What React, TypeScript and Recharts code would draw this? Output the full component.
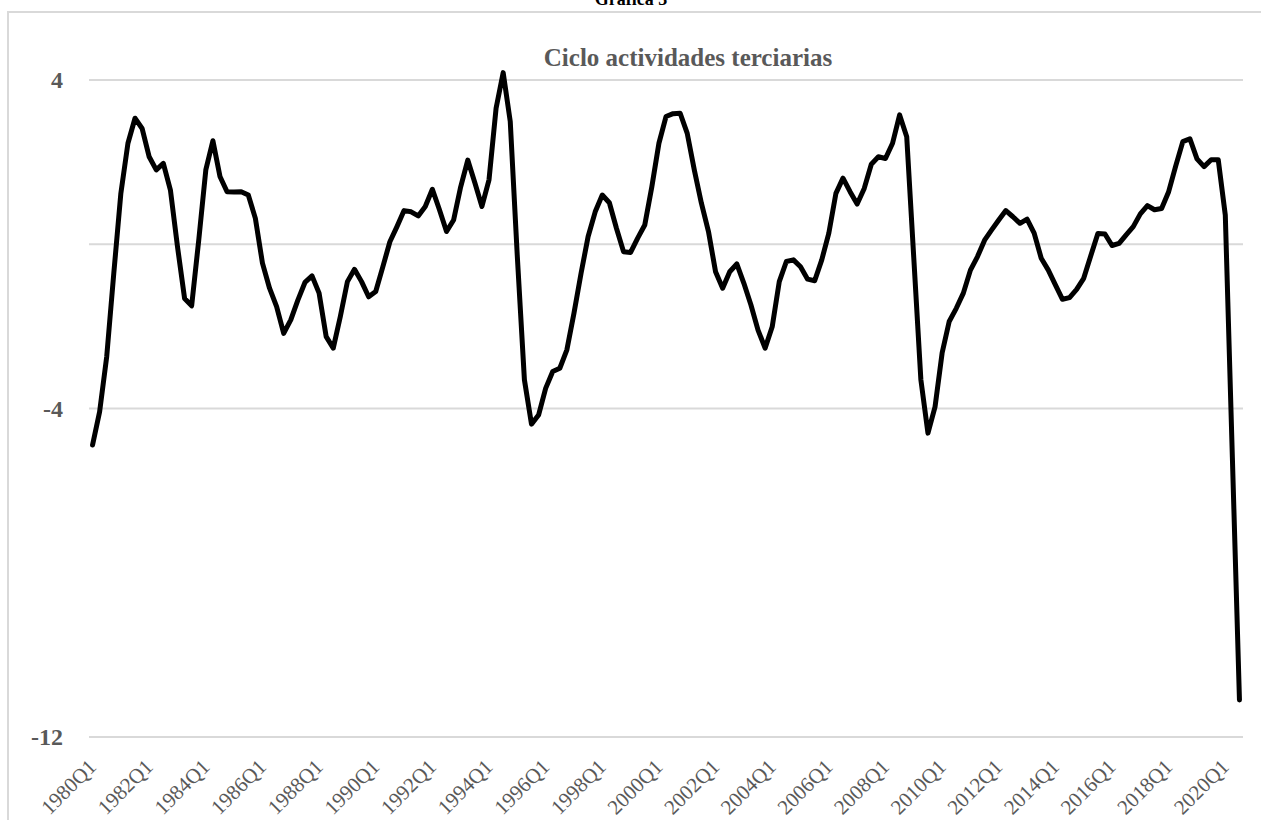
import { LineChart, Line, XAxis, YAxis, ReferenceLine } from 'recharts';

const years = Array.from({ length: 41 }, (_, i) => 1980 + i);
const quarterLabels = ['Q1', 'Q2', 'Q3', 'Q4'];

// ciclo trimestral, 1980Q1 - 2020Q3
const cycleValues = [
  -4.89, -4.08, -2.74, -0.71,
  1.24, 2.46, 3.07, 2.82,
  2.13, 1.81, 1.97, 1.32,
  -0.06, -1.32, -1.5, 0.1,
  1.81, 2.52, 1.65, 1.28,
  1.27, 1.28, 1.2, 0.63,
  -0.46, -1.07, -1.52, -2.17,
  -1.84, -1.36, -0.93, -0.77,
  -1.19, -2.25, -2.53, -1.76,
  -0.91, -0.61, -0.91, -1.28,
  -1.15, -0.55, 0.06, 0.43,
  0.82, 0.79, 0.69, 0.92,
  1.34, 0.84, 0.31, 0.59,
  1.4, 2.05, 1.5, 0.92,
  1.57, 3.31, 4.18, 2.99,
  -0.3, -3.3, -4.38, -4.16,
  -3.51, -3.1, -3.02, -2.57,
  -1.68, -0.71, 0.19, 0.79,
  1.2, 1.01, 0.39, -0.18,
  -0.2, 0.15, 0.47, 1.4,
  2.46, 3.11, 3.18, 3.19,
  2.7, 1.81, 1.0, 0.31,
  -0.67, -1.07, -0.67, -0.48,
  -0.95, -1.48, -2.09, -2.53,
  -2.01, -0.91, -0.42, -0.38,
  -0.55, -0.85, -0.89, -0.38,
  0.27, 1.24, 1.61, 1.28,
  0.98, 1.36, 1.95, 2.13,
  2.09, 2.46, 3.15, 2.62,
  -0.34, -3.3, -4.6, -3.96,
  -2.65, -1.88, -1.56, -1.19,
  -0.63, -0.3, 0.1, 0.35,
  0.59, 0.82, 0.67, 0.51,
  0.61, 0.27, -0.34, -0.63,
  -0.99, -1.34, -1.3, -1.1,
  -0.83, -0.28, 0.26, 0.25,
  -0.03, 0.02, 0.23, 0.43,
  0.74, 0.94, 0.84, 0.87,
  1.28, 1.91, 2.5, 2.57,
  2.08, 1.89, 2.06, 2.06,
  0.71, -5.2, -11.1,
];

const yTicks = [-12, -4, 4];
// gridlines plus the category axis line crossing at 0
const gridValues = [-12, -4, 0, 4];

const categories = years.flatMap((y) => quarterLabels.map((q) => `${y}${q}`)).slice(0, cycleValues.length);
const data = categories.map((quarter, i) => ({ quarter, value: cycleValues[i] }));

const GREY = '#595959';
const FONT = "'Liberation Serif', 'Times New Roman', serif";

function XTick({ x, y, payload }: any) {
  return (
    <g transform={`translate(${x + 5},${y + 31})`}>
      <text textAnchor="end" transform="rotate(-45)" fontSize={21} fill={GREY} fontFamily={FONT}>
        {payload.value}
      </text>
    </g>
  );
}

function YTick({ y, payload }: any) {
  return (
    <text x={63} y={y} dy="0.35em" textAnchor="end" fontSize={24} fontWeight="bold" fill={GREY} fontFamily={FONT}>
      {payload.value}
    </text>
  );
}

export default function App() {
  return (
    <div
      style={{
        position: 'fixed',
        left: 0,
        top: 0,
        width: 1261,
        height: 820,
        overflow: 'hidden',
        background: '#fff',
      }}
    >
      <div
        style={{
          position: 'absolute',
          left: 7,
          top: 11,
          width: 1400,
          height: 1000,
          border: '2px solid #d9d9d9',
        }}
      />
      <div style={{ position: 'absolute', left: 0, top: 0 }}>
        {/* domain top 4.2 so that 4 lands on y=80 and the 1994 peak pokes above the gridline */}
        <LineChart width={1261} height={900} data={data} margin={{ top: 71.8, right: 18, bottom: 63, left: 0 }}>
          <XAxis
            dataKey="quarter"
            interval={7}
            axisLine={false}
            tickLine={false}
            tickSize={0}
            tickMargin={0}
            height={100}
            padding={{ left: 3.54, right: 3.54 }}
            tick={<XTick />}
          />
          <YAxis
            type="number"
            domain={[-12, 4.2]}
            ticks={yTicks}
            interval={0}
            width={89}
            axisLine={false}
            tickLine={false}
            tick={<YTick />}
          />
          {gridValues.map((v) => (
            <ReferenceLine key={v} y={v} stroke="#d9d9d9" strokeWidth={2} />
          ))}
          <Line
            type="linear"
            dataKey="value"
            stroke="#000"
            strokeWidth={5}
            strokeLinejoin="round"
            strokeLinecap="round"
            dot={false}
            activeDot={false}
            isAnimationActive={false}
          />
        </LineChart>
      </div>
      <svg
        width={1261}
        height={820}
        style={{ position: 'absolute', left: 0, top: 0, pointerEvents: 'none', overflow: 'visible' }}
      >
        <text x={631} y={5} textAnchor="middle" fontSize={18} fontWeight="bold" fill="#000" fontFamily={FONT}>
          Gráfica 3
        </text>
        <text x={688} y={66} textAnchor="middle" fontSize={25} fontWeight="bold" fill={GREY} fontFamily={FONT}>
          Ciclo actividades terciarias
        </text>
      </svg>
    </div>
  );
}
